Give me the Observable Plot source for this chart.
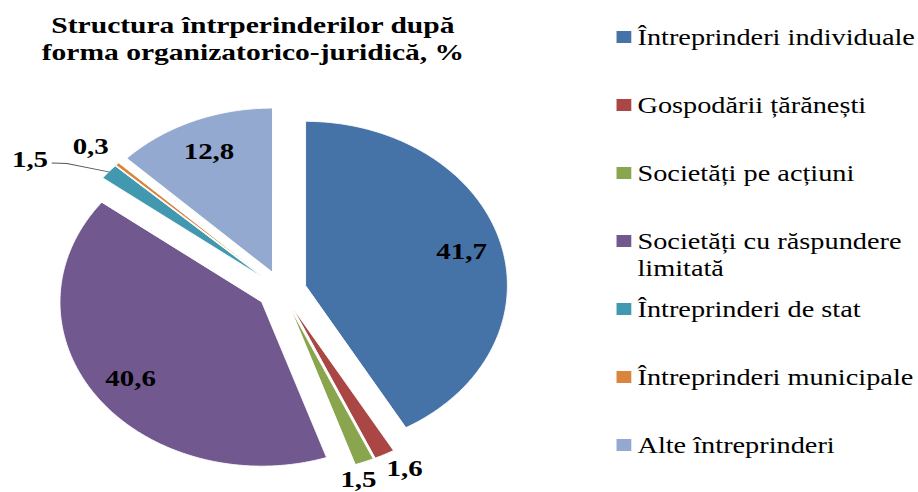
<!DOCTYPE html>
<html>
<head>
<meta charset="utf-8">
<script src="https://cdn.jsdelivr.net/npm/d3@7"></script>
<script src="https://cdn.jsdelivr.net/npm/@observablehq/plot@0.6"></script>
<style>
  html, body { margin: 0; padding: 0; background: #fff; }
  #stage {
    position: relative; width: 746px; height: 492px;
    transform: scaleX(1.2306); transform-origin: 0 0;
    font-family: "Liberation Serif", "Times New Roman", serif; color: #000;
  }
  #chart { position: absolute; left: 0; top: 0; }
  #title {
    position: absolute; left: 0; top: 12px; width: 411px; text-align: center;
    font-weight: bold; font-size: 24px; line-height: 26.5px; white-space: nowrap;
  }
  #legend { position: absolute; left: 501px; top: 0; width: 245px; height: 492px; }
  .item { position: absolute; left: 0; width: 245px; font-size: 23px; line-height: 27px; }
  .item .sw { position: absolute; left: 0; top: 7.5px; width: 12px; height: 12px; }
  .item .lb { position: absolute; left: 17px; top: 0; width: 228px; white-space: normal; }
</style>
</head>
<body>
<div id="stage">
  <div id="chart"></div>
  <div id="title">Structura întrperinderilor după<br>forma organizatorico-juridică, %</div>
  <div id="legend"></div>
</div>
<script>
// ---- data ----
const categories = [
  "Întreprinderi individuale",
  "Gospodării țărănești",
  "Societăți pe acțiuni",
  "Societăți cu răspundere limitată",
  "Întreprinderi de stat",
  "Întreprinderi municipale",
  "Alte întreprinderi"
];
const values = [41.7, 1.6, 1.5, 40.6, 1.5, 0.3, 12.8];
const palette = ["#4572A7", "#AA4643", "#89A54E", "#71588F", "#4198AF", "#DB843D", "#93A9CF"];

// ---- layout constants (pixels in unstretched stage) ----
const W = 746, H = 492;
const cx = 228.5, cy = 290, R = 164;
const explode = 20 / R;
// placement tweaks for the small outside labels (degrees shift, radius in R units)
const outsideLayout = {
  "Gospodării țărănești": {shift: -2.3, r: 1.244},
  "Societăți pe acțiuni": {shift: 3.2, r: 1.215},
  "Întreprinderi de stat": {shift: -7.6, r: 1.48, leader: true},
  "Întreprinderi municipale": {shift: -0.6, r: 1.29}
};

const arcs = d3.pie().sort(null)(values);
const slicePts = [];
const labels = [];
const leaders = [];
arcs.forEach((a, i) => {
  const cat = categories[i];
  const mid = (a.startAngle + a.endAngle) / 2;
  const ox = explode * Math.sin(mid), oy = explode * Math.cos(mid);
  slicePts.push({category: cat, x: ox, y: oy});
  const n = Math.max(2, Math.ceil((a.endAngle - a.startAngle) / (Math.PI / 360)));
  for (let k = 0; k <= n; k++) {
    const t = a.startAngle + (a.endAngle - a.startAngle) * k / n;
    slicePts.push({category: cat, x: ox + Math.sin(t), y: oy + Math.cos(t)});
  }
  const text = values[i].toFixed(1).replace(".", ",");
  const lay = outsideLayout[cat];
  if (lay) {
    const ang = mid + lay.shift * Math.PI / 180;
    const lx = lay.r * Math.sin(ang), ly = lay.r * Math.cos(ang);
    labels.push({x: lx, y: ly, text});
    if (lay.leader) {
      const sx = lx + 18 / R, sy = ly - 3 / R;
      leaders.push({x: sx, y: sy});
      leaders.push({x: sx + 12 / R, y: sy - 0.5 / R});
      leaders.push({x: (1 + explode) * Math.sin(mid), y: (1 + explode) * Math.cos(mid)});
    }
  } else {
    const r = 0.8 + explode;
    labels.push({x: r * Math.sin(mid), y: r * Math.cos(mid), text});
  }
});

const chart = Plot.plot({
  width: W, height: H, margin: 0,
  x: {domain: [-1, 1], range: [cx - R, cx + R], axis: null},
  y: {domain: [-1, 1], range: [cy + R, cy - R], axis: null},
  color: {domain: categories, range: palette},
  style: {fontFamily: '"Liberation Serif", "Times New Roman", serif', background: "transparent", overflow: "visible"},
  marks: [
    Plot.line(slicePts, {x: "x", y: "y", z: "category", fill: "category", stroke: "white", strokeWidth: 0.8, curve: "linear-closed"}),
    Plot.line(leaders, {x: "x", y: "y", stroke: "#555", strokeWidth: 1}),
    Plot.text(labels, {x: "x", y: "y", text: "text", fontSize: 23.5, fontWeight: "bold", fill: "#000"})
  ]
});
document.getElementById("chart").appendChild(chart);

// ---- legend ----
const legend = document.getElementById("legend");
categories.forEach((c, i) => {
  const baseline = 45 + 68 * i;
  const item = document.createElement("div");
  item.className = "item";
  item.style.top = (baseline - 21.3) + "px";
  const sw = document.createElement("div");
  sw.className = "sw";
  sw.style.background = palette[i];
  const lb = document.createElement("div");
  lb.className = "lb";
  lb.textContent = c;
  item.appendChild(sw);
  item.appendChild(lb);
  legend.appendChild(item);
});
</script>
</body>
</html>
